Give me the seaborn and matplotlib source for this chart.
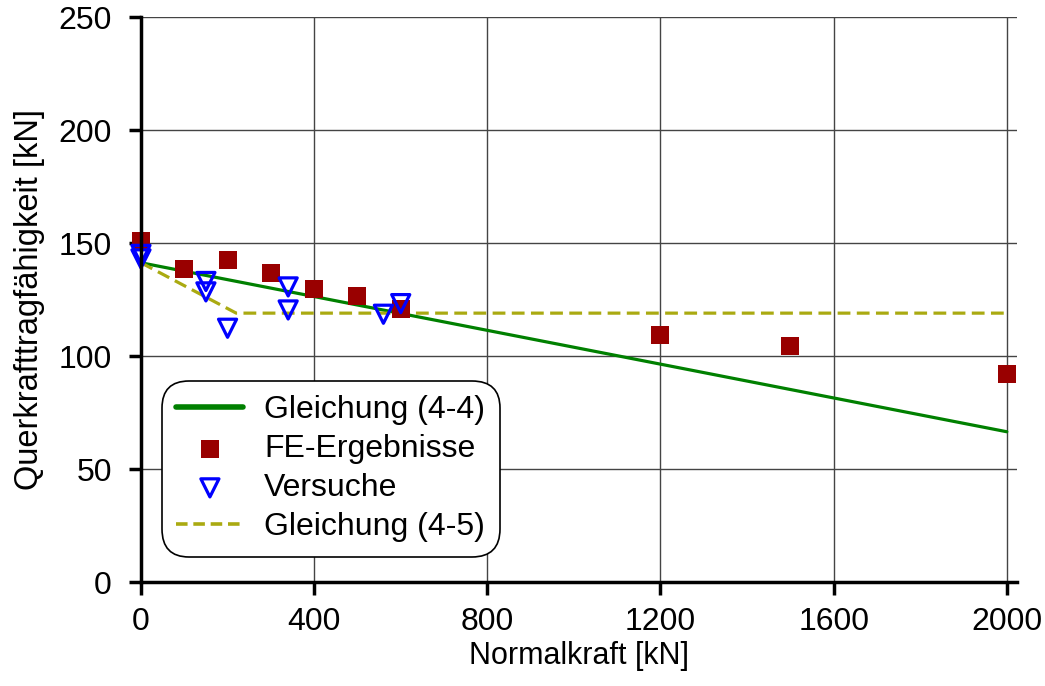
import matplotlib
matplotlib.use("Agg")
import matplotlib.pyplot as plt
import seaborn as sns
import pandas as pd

# Data
fe_x = [0, 100, 200, 300, 400, 500, 600, 1200, 1500, 2000]
fe_y = [151, 138.6, 142.4, 136.8, 129.7, 126.8, 120.9, 109.4, 104.3, 92]

vers_x = [0, 0, 150, 150, 200, 340, 340, 560, 600]
vers_y = [145, 143, 133, 128.4, 112.3, 130.6, 120.4, 118.5, 123.2]

gl44_x = [0, 2000]
gl44_y = [141.3, 66.5]

gl45_x = [0, 220, 2000]
gl45_y = [141.3, 119, 119]

x_ticks = [0, 400, 800, 1200, 1600, 2000]
y_ticks = [0, 50, 100, 150, 200, 250]

sns.set_style("white")
plt.rcParams['font.family'] = ['Liberation Sans', 'DejaVu Sans']
plt.rcParams['text.color'] = 'black'
plt.rcParams['axes.labelcolor'] = 'black'
plt.rcParams['xtick.color'] = 'black'
plt.rcParams['ytick.color'] = 'black'

FS = 23

fig = plt.figure(figsize=(10.45, 6.86), dpi=100)
ax = fig.add_axes([0.1349, 0.1516, 0.973 - 0.1349, 0.975 - 0.1516])

green = '#008000'
red = '#990000'
blue = '#0000FF'
olive = '#AAAA11'

sns.lineplot(x=gl44_x, y=gl44_y, ax=ax, color=green, lw=2.3, label='Gleichung (4-4)', zorder=3)
sns.scatterplot(x=fe_x, y=fe_y, ax=ax, marker='s', color=red, s=150, edgecolor=red,
                linewidth=0, label='FE-Ergebnisse', zorder=5, clip_on=False)
sns.scatterplot(x=vers_x, y=vers_y, ax=ax, marker='v', facecolor='none', edgecolor=blue,
                s=170, linewidth=2.3, label='Versuche', zorder=6, clip_on=False)
sns.lineplot(x=gl45_x, y=gl45_y, ax=ax, color=olive, lw=2.3, linestyle=(0, (4, 2)),
             label='Gleichung (4-5)', zorder=4)

ax.set_xlim(0, 2023)
ax.set_ylim(0, 250)
ax.set_xticks(x_ticks)
ax.set_yticks(y_ticks)
ax.grid(True, color='#444444', lw=1.0)
ax.set_axisbelow(True)

for s in ['top', 'right']:
    ax.spines[s].set_visible(False)
for s in ['left', 'bottom']:
    ax.spines[s].set_color('black')
    ax.spines[s].set_linewidth(2.5)
    ax.spines[s].set_zorder(7)

ax.tick_params(axis='both', labelsize=FS, colors='black', length=9, width=2.5,
               direction='out')
ax.tick_params(axis='x', pad=9)
ax.tick_params(axis='y', pad=12)
ax.tick_params(left=True, bottom=True)

ax.set_xlabel('Normalkraft [kN]', fontsize=22, labelpad=3)
ax.set_ylabel('Querkrafttragfähigkeit [kN]', fontsize=23.5, labelpad=10)

leg = ax.legend(loc='lower left', bbox_to_anchor=(0.024, 0.045), borderaxespad=0,
                fontsize=FS, frameon=True, handlelength=2.1, handletextpad=0.65,
                labelspacing=0.28, borderpad=0.45, framealpha=1, markerscale=1.0)
frame = leg.get_frame()
frame.set_edgecolor('black')
frame.set_linewidth(1.2)
frame.set_boxstyle('round,pad=0,rounding_size=0.85')
leg.set_zorder(10)
lines = leg.get_lines()
lines[0].set_linewidth(4)
lines[-1].set_linewidth(2.6)
lines[-1].set_dashes((3.2, 1.6))

fig.savefig('out.png', dpi=100)
